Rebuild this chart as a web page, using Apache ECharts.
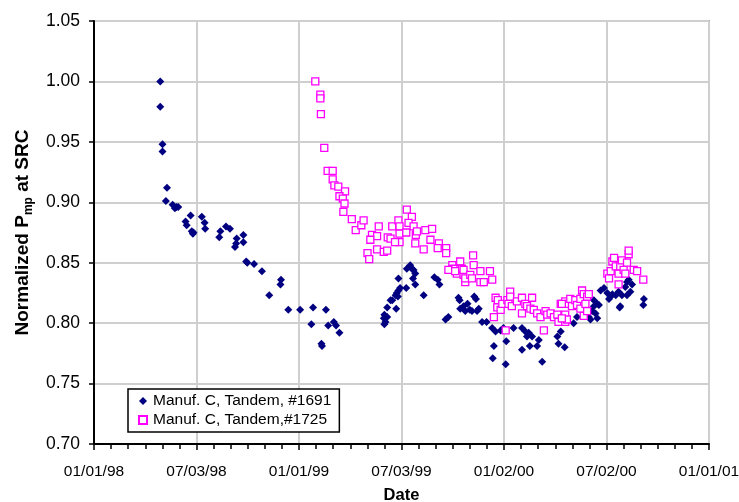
<!DOCTYPE html>
<html>
<head>
<meta charset="utf-8">
<script src="https://cdn.jsdelivr.net/npm/echarts@6/dist/echarts.min.js"></script>
<style>
html,body{margin:0;padding:0;background:#fff;}
#chart{width:739px;height:502px;}
</style>
</head>
<body>
<div id="chart"></div>
<script>
// x values: days since 01/01/98
var xTickLabels = ['01/01/98','07/03/98','01/01/99','07/03/99','01/02/00','07/02/00','01/01/01'];
var yTickStep = 0.05;

var blueName = 'Manuf. C, Tandem, #1691';
var blueDays = [118,118,122,122,130,128,140,144,147,150,172,163,165,174,176,177,192,197,198,225,223,235,242,254,253,251,266,266,271,273,285,299,333,332,312,346,367,390,387,413,417,427,431,437,405,406,
517,516,522,517,519,522,528,531,538,537,539,542,545,541,542,556,557,563,566,569,572,568,572,587,606,612,615,631,626,649,651,652,658,665,661,669,673,677,680,685,682,691,699,709,715,724,729,712,710,733,734,747,762,768,774,780,771,762,776,789,792,798,825,831,827,838,854,902,908,920,929,934,937,952,958,890,896,890,899,887,893,896,884,881,878,917,923,940,949,955,946,949,979,978,936,914,860];
var blueValues = [1.000,0.979,0.948,0.942,0.912,0.901,0.898,0.895,0.896,0.896,0.889,0.884,0.881,0.876,0.874,0.875,0.888,0.883,0.878,0.876,0.871,0.880,0.878,0.870,0.866,0.863,0.873,0.867,0.851,0.850,0.849,0.843,0.836,0.832,0.823,0.811,0.811,0.813,0.799,0.811,0.798,0.801,0.798,0.792,0.783,0.781,
0.807,0.804,0.805,0.799,0.801,0.813,0.819,0.819,0.812,0.823,0.825,0.827,0.829,0.822,0.837,0.829,0.845,0.848,0.845,0.844,0.841,0.837,0.832,0.823,0.838,0.836,0.832,0.805,0.803,0.821,0.819,0.812,0.814,0.816,0.810,0.811,0.810,0.822,0.820,0.812,0.810,0.801,0.801,0.796,0.793,0.794,0.796,0.781,0.771,0.766,0.785,0.796,0.796,0.793,0.792,0.789,0.789,0.778,0.781,0.781,0.786,0.768,0.789,0.793,0.783,0.780,0.800,0.827,0.829,0.822,0.823,0.826,0.814,0.836,0.832,0.819,0.816,0.814,0.815,0.810,0.808,0.804,0.803,0.805,0.811,0.820,0.824,0.823,0.823,0.826,0.830,0.834,0.820,0.815,0.813,0.825,0.805];

var pinkName = 'Manuf. C, Tandem,#1725';
var pinkDays = [394,403,403,404,410,416,425,425,428,435,447,437,443,446,444,459,466,476,480,495,504,492,507,487,490,504,516,522,523,528,531,542,544,544,544,536,557,566,560,569,573,556,575,572,587,590,602,599,614,612,627,627,638,652,646,655,658,661,640,631,643,658,661,670,673,676,675,688,688,694,705,709,715,719,718,712,724,727,736,741,738,741,744,733,753,762,768,762,771,780,777,783,789,795,804,801,807,813,819,825,827,836,839,831,839,845,848,851,857,860,866,866,869,872,875,872,878,878,881,914,917,920,923,926,929,934,937,940,943,946,949,952,952,961,967,978,934,833,839,842,833];
var pinkValues = [1.000,0.989,0.986,0.973,0.945,0.926,0.926,0.919,0.914,0.913,0.909,0.905,0.903,0.899,0.892,0.886,0.877,0.881,0.885,0.873,0.872,0.869,0.880,0.858,0.853,0.861,0.859,0.860,0.871,0.870,0.880,0.885,0.880,0.874,0.867,0.867,0.894,0.888,0.883,0.880,0.873,0.875,0.876,0.866,0.861,0.877,0.878,0.869,0.866,0.862,0.862,0.858,0.848,0.851,0.841,0.845,0.840,0.834,0.845,0.844,0.843,0.844,0.837,0.840,0.837,0.848,0.856,0.843,0.834,0.834,0.843,0.836,0.821,0.819,0.813,0.805,0.811,0.816,0.819,0.826,0.816,0.822,0.814,0.794,0.818,0.821,0.816,0.808,0.814,0.821,0.812,0.811,0.808,0.805,0.810,0.794,0.807,0.808,0.805,0.807,0.801,0.804,0.801,0.816,0.818,0.816,0.820,0.814,0.819,0.815,0.820,0.812,0.827,0.824,0.816,0.806,0.822,0.810,0.824,0.841,0.837,0.843,0.851,0.854,0.847,0.841,0.847,0.852,0.844,0.841,0.850,0.857,0.860,0.844,0.843,0.836,0.832,0.816,0.807,0.803,0.804];

function zip(a, b) { return a.map(function (v, i) { return [v, b[i]]; }); }

var FONT = "'Liberation Sans', Arial, sans-serif";
var xInterval = 182.5;
var chart = echarts.init(document.getElementById('chart'), null, {renderer: 'canvas'});
chart.setOption({
  animation: false,
  backgroundColor: '#fff',
  textStyle: {fontFamily: FONT, color: '#000'},
  grid: {left: 94, right: 30, top: 21, bottom: 58, containLabel: false, outerBoundsMode: 'none',
    show: true, borderColor: '#a6a6a6', borderWidth: 2, backgroundColor: 'transparent'},
  legend: {
    orient: 'vertical', left: 128, top: 389,
    backgroundColor: '#fff', borderColor: '#000', borderWidth: 1.5,
    padding: [4, 8, 4, 10], itemGap: 3, itemWidth: 8, itemHeight: 8,
    textStyle: {fontFamily: FONT, fontSize: 15.5, color: '#000', padding: [0, 0, 0, 1]},
    data: [blueName, pinkName]
  },
  xAxis: {
    type: 'value', min: 0, max: xInterval * 6, interval: xInterval,
    name: 'Date', nameLocation: 'middle', nameGap: 43,
    nameTextStyle: {fontFamily: FONT, fontSize: 16.5, fontWeight: 'bold', color: '#000'},
    axisLine: {show: true, onZero: false, lineStyle: {color: '#000', width: 2}},
    axisTick: {show: true, inside: false, length: 6, lineStyle: {color: '#000', width: 1.5}},
    minorTick: {show: true, splitNumber: 6, length: 5, lineStyle: {color: '#000', width: 1.5}},
    axisLabel: {margin: 20, fontFamily: FONT, fontSize: 15.5, color: '#000',
      formatter: function (v) { return xTickLabels[Math.round(v / xInterval)]; }},
    splitLine: {show: true, lineStyle: {color: '#cfcfcf', width: 2}}
  },
  yAxis: {
    type: 'value', min: 0.70, max: 1.05, interval: yTickStep,
    name: '{a|Normalized P}{s|mp}{a| at SRC}', nameLocation: 'middle', nameGap: 58, nameRotate: 90,
    nameTextStyle: {fontFamily: FONT, fontSize: 19, fontWeight: 'bold', color: '#000',
      rich: {
        a: {fontFamily: FONT, fontSize: 19, fontWeight: 'bold', color: '#000', lineHeight: 24, verticalAlign: 'middle'},
        s: {fontFamily: FONT, fontSize: 12, fontWeight: 'bold', color: '#000', lineHeight: 12, verticalAlign: 'bottom'}
      }},
    axisLine: {show: true, lineStyle: {color: '#000', width: 2}},
    axisTick: {show: true, inside: false, length: 5, lineStyle: {color: '#000', width: 1.5}},
    axisLabel: {margin: 14, fontFamily: FONT, fontSize: 17.5, color: '#000',
      formatter: function (v) { return v.toFixed(2); }},
    splitLine: {show: true, lineStyle: {color: '#cfcfcf', width: 2}}
  },
  series: [
    {
      name: blueName, type: 'scatter', symbol: 'diamond', symbolSize: [8, 8],
      itemStyle: {color: '#000080', opacity: 1},
      data: zip(blueDays, blueValues), z: 3
    },
    {
      name: pinkName, type: 'scatter', symbol: 'rect', symbolSize: 7,
      itemStyle: {color: '#ffffff', borderColor: '#ff00ff', borderWidth: 1.3, opacity: 1},
      data: zip(pinkDays, pinkValues), z: 4
    }
  ]
});
</script>
</body>
</html>
